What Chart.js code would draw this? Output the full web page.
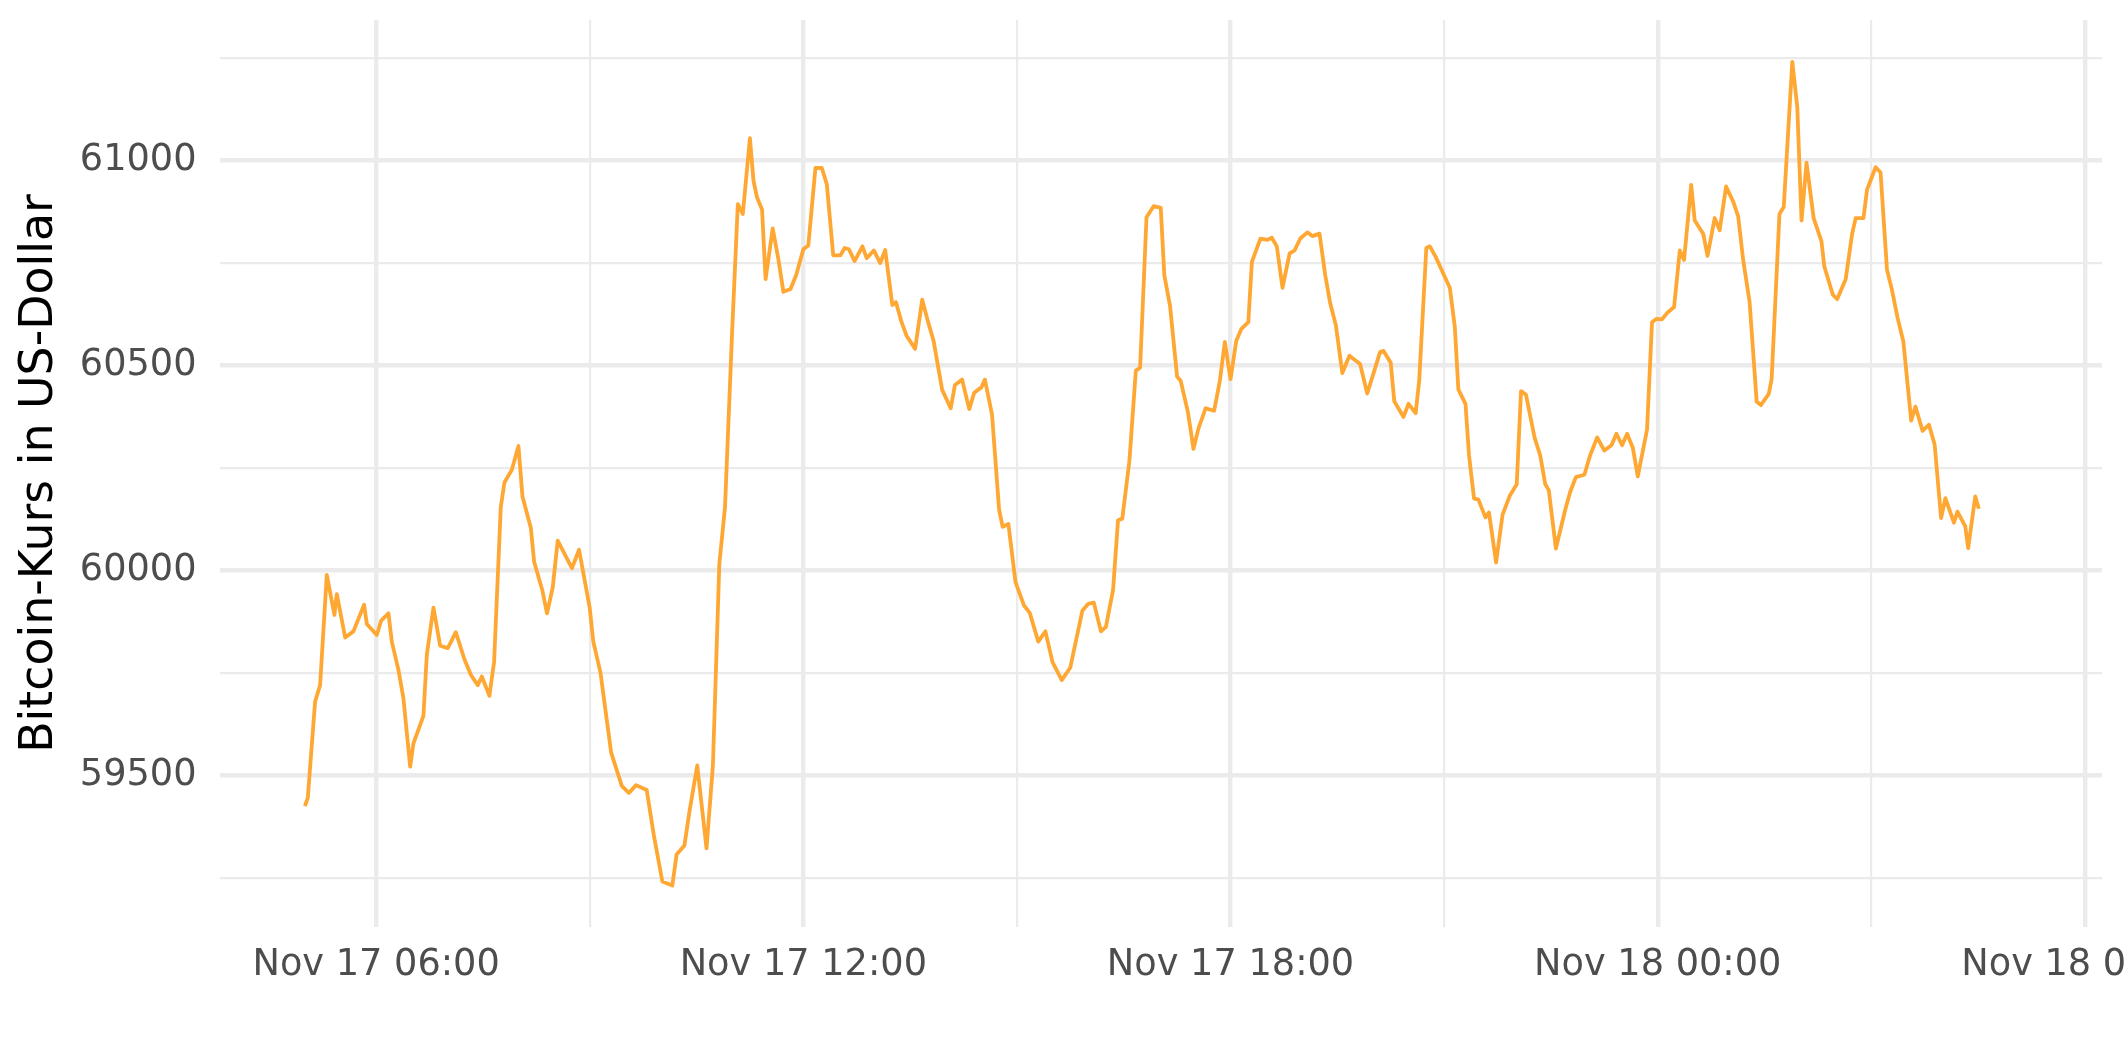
<!DOCTYPE html>
<html>
<head>
<meta charset="utf-8">
<title>Bitcoin-Kurs</title>
<script src="https://cdn.jsdelivr.net/npm/chart.js@4.4.1/dist/chart.umd.min.js"></script>
<style>
  html, body { margin: 0; padding: 0; background: #fff; }
  #wrap { width: 2125px; height: 1062px; }
</style>
</head>
<body>
<div id="wrap"><canvas id="btcChart" width="2125" height="1062"></canvas></div>
<script>
// hours since Nov 17 00:00 (24 = Nov 18 00:00)
const hours = [
  5.00, 5.04, 5.143, 5.213, 5.307, 5.414, 5.448, 5.565, 5.681, 5.831, 5.869,
  6.009, 6.070, 6.173, 6.220, 6.313, 6.383, 6.478, 6.524, 6.664, 6.712, 6.805, 6.899,
  7.007, 7.119, 7.240, 7.330, 7.428, 7.484, 7.591, 7.657, 7.751, 7.802, 7.906, 7.999,
  8.055, 8.173, 8.219, 8.336, 8.40, 8.48, 8.55, 8.75, 8.85, 8.92,
  9.00, 9.05, 9.15, 9.30, 9.45, 9.55, 9.65, 9.80, 9.90,
  10.02, 10.16, 10.22, 10.33, 10.40, 10.51, 10.64, 10.73, 10.82, 10.90,
  11.00, 11.08, 11.15, 11.25, 11.30, 11.35, 11.42, 11.47, 11.57, 11.65, 11.72, 11.82, 11.90,
  12.00, 12.07, 12.17, 12.26, 12.33, 12.42, 12.52, 12.58, 12.64, 12.72, 12.83, 12.89, 12.99,
  13.08, 13.15, 13.25, 13.30, 13.38, 13.45, 13.57, 13.67, 13.75, 13.83, 13.95,
  14.07, 14.13, 14.23, 14.33, 14.40, 14.50, 14.55, 14.65, 14.75, 14.80, 14.88, 14.98,
  15.10, 15.18, 15.30, 15.40, 15.50, 15.63, 15.75, 15.92,
  16.00, 16.08, 16.18, 16.25, 16.35, 16.42, 16.48, 16.58, 16.67, 16.73, 16.82, 16.92,
  17.02, 17.07, 17.15, 17.25, 17.30, 17.40, 17.48, 17.55, 17.65, 17.77, 17.85, 17.92,
  18.00, 18.08, 18.15, 18.25, 18.30, 18.42, 18.52, 18.58, 18.65, 18.73, 18.83, 18.90, 18.98,
  19.08, 19.15, 19.25, 19.33, 19.40, 19.48, 19.57, 19.67, 19.82, 19.92,
  20.02, 20.10, 20.15, 20.25, 20.30, 20.43, 20.50, 20.60, 20.65, 20.75, 20.80, 20.88, 20.98,
  21.08, 21.15, 21.20, 21.30, 21.35, 21.42, 21.48, 21.58, 21.63, 21.73, 21.82, 21.92,
  22.02, 22.08, 22.15, 22.27, 22.35, 22.42, 22.47, 22.57, 22.70, 22.77, 22.85, 22.97,
  23.05, 23.15, 23.25, 23.35, 23.42, 23.50, 23.57, 23.65, 23.72, 23.80, 23.85, 23.92, 23.98,
  24.06, 24.13, 24.23, 24.31, 24.37, 24.47, 24.52, 24.64, 24.70, 24.80, 24.87, 24.96,
  25.06, 25.13, 25.20, 25.29, 25.39, 25.45, 25.56, 25.60, 25.71, 25.77, 25.89, 25.96,
  26.02, 26.09, 26.19, 26.30, 26.34, 26.46, 26.52, 26.64, 26.73, 26.78, 26.89, 26.94,
  27.06, 27.13, 27.22, 27.29, 27.37, 27.45, 27.56, 27.62, 27.72, 27.81, 27.89, 27.98,
  28.04, 28.16, 28.21, 28.32, 28.36, 28.46, 28.51
];

const prices = [
  59425, 59445, 59680, 59720, 59989, 59891, 59942, 59836, 59851, 59916, 59869,
  59842, 59877, 59895, 59826, 59757, 59688, 59521, 59578, 59645, 59794, 59909, 59816,
  59810, 59849, 59783, 59745, 59720, 59741, 59694, 59777, 60155, 60214, 60245, 60303,
  60180, 60103, 60021, 59950, 59895, 59958, 60072, 60005, 60050, 59984,
  59908, 59826, 59751, 59556, 59474, 59457, 59476, 59464, 59354,
  59241, 59231, 59307, 59329, 59411, 59524, 59322, 59524, 60015, 60154,
  60582, 60893, 60869, 61054, 60950, 60909, 60880, 60710, 60834, 60758, 60679, 60686, 60720,
  60783, 60792, 60981, 60981, 60941, 60768, 60768, 60786, 60783, 60754, 60790, 60761, 60780,
  60749, 60781, 60647, 60654, 60605, 60572, 60540, 60660, 60607, 60559, 60440,
  60395, 60452, 60465, 60393, 60433, 60446, 60465, 60380, 60147, 60106, 60113, 59971,
  59914, 59896, 59826, 59851, 59776, 59732, 59763, 59902,
  59918, 59921, 59851, 59862, 59952, 60122, 60126, 60267, 60487, 60494, 60861, 60888,
  60884, 60720, 60645, 60472, 60462, 60387, 60296, 60346, 60395, 60389, 60462, 60557,
  60466, 60559, 60588, 60605, 60752, 60809, 60806, 60811, 60790, 60689, 60773, 60780, 60809,
  60824, 60815, 60821, 60720, 60651, 60597, 60481, 60523, 60503, 60431,
  60487, 60532, 60535, 60506, 60412, 60374, 60406, 60383, 60462, 60786, 60790, 60765, 60727,
  60689, 60594, 60441, 60406, 60280, 60175, 60173, 60129, 60141, 60019, 60135, 60181,
  60210, 60437, 60428, 60324, 60280, 60210, 60195, 60053, 60147, 60191, 60227, 60233,
  60280, 60324, 60292, 60305, 60333, 60305, 60333, 60299, 60229, 60299, 60343, 60605, 60613,
  60612, 60627, 60642, 60780, 60757, 60940, 60853, 60820, 60767, 60859, 60829, 60936,
  60899, 60863, 60757, 60655, 60411, 60403, 60430, 60466, 60869, 60886, 61240, 61130,
  60853, 60994, 60859, 60802, 60741, 60672, 60661, 60710, 60820, 60859, 60859, 60928,
  60983, 60970, 60733, 60684, 60615, 60558, 60365, 60399, 60340, 60355, 60306, 60127,
  60176, 60116, 60143, 60107, 60054, 60180, 60150
];

const xTickHours = [6, 9, 12, 15, 18, 21, 24, 27, 30];
const xTickLabels = ['Nov 17 06:00', '', 'Nov 17 12:00', '', 'Nov 17 18:00', '', 'Nov 18 00:00', '', 'Nov 18 06:00'];
const yTickValues = [59250, 59500, 59750, 60000, 60250, 60500, 60750, 61000, 61250];
const yTickLabels = ['', '59500', '', '60000', '', '60500', '', '61000', ''];

const GRID = '#EBEBEB';
const FONT = "'DejaVu Sans', 'Liberation Sans', sans-serif";

const ctx = document.getElementById('btcChart').getContext('2d');

new Chart(ctx, {
  type: 'line',
  data: {
    datasets: [{
      data: hours.map((h, i) => ({ x: h, y: prices[i] })),
      borderColor: '#FFA733',
      borderWidth: 3.8,
      borderJoinStyle: 'round',
      pointRadius: 0,
      tension: 0,
      fill: false
    }]
  },
  options: {
    responsive: false,
    animation: false,
    devicePixelRatio: 1,
    layout: { padding: { top: 20, right: 23, bottom: 0, left: 0 } },
    plugins: {
      legend: { display: false },
      tooltip: { enabled: false }
    },
    scales: {
      x: {
        type: 'linear',
        min: 3.80,
        max: 30.24,
        afterBuildTicks: (scale) => {
          scale.ticks = xTickHours.map((v) => ({ value: v }));
        },
        afterFit: (scale) => {
          scale.height = 135;
          scale.paddingLeft = 0;
          scale.paddingRight = 0;
        },
        grid: {
          color: GRID,
          lineWidth: (c) => (c.tick && c.tick.value % 6 === 0 ? 4.4 : 2.2),
          drawTicks: false
        },
        border: { display: false },
        ticks: {
          autoSkip: false,
          maxRotation: 0,
          padding: 16,
          color: '#4D4D4D',
          font: { family: FONT, size: 36.7 },
          callback: (value) => {
            const i = xTickHours.indexOf(value);
            return i >= 0 ? xTickLabels[i] : '';
          }
        }
      },
      y: {
        type: 'linear',
        min: 59130,
        max: 61342,
        afterBuildTicks: (scale) => {
          scale.ticks = yTickValues.map((v) => ({ value: v }));
        },
        afterFit: (scale) => {
          scale.width = 219.5;
          scale.paddingTop = 0;
          scale.paddingBottom = 0;
        },
        grid: {
          color: GRID,
          lineWidth: (c) => (c.tick && c.tick.value % 500 === 0 ? 4.4 : 2.2),
          drawTicks: false
        },
        border: { display: false },
        title: {
          display: true,
          text: 'Bitcoin-Kurs in US-Dollar',
          color: '#000000',
          font: { family: FONT, size: 45.8 },
          padding: { top: 13, bottom: 0 }
        },
        ticks: {
          autoSkip: false,
          padding: 23,
          color: '#4D4D4D',
          font: { family: FONT, size: 36.7 },
          callback: (value) => {
            const i = yTickValues.indexOf(value);
            return i >= 0 ? yTickLabels[i] : '';
          }
        }
      }
    }
  }
});
</script>
</body>
</html>
